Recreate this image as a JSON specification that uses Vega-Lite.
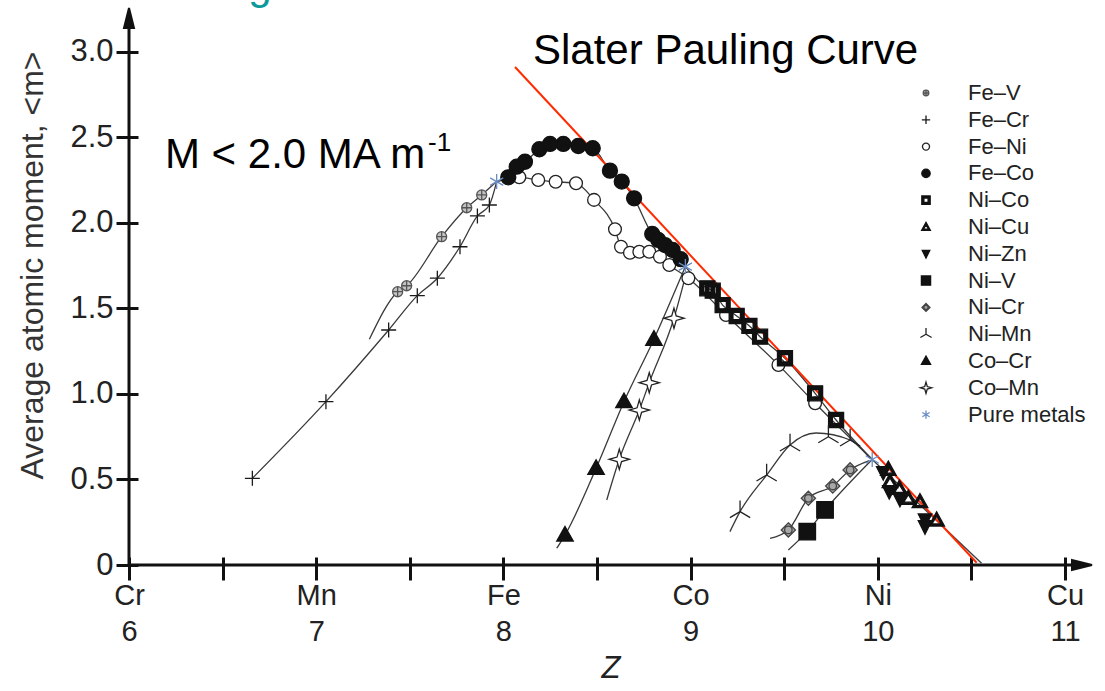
{
  "$schema": "https://vega.github.io/schema/vega-lite/v6.json",
  "width": 963,
  "height": 557,
  "autosize": "none",
  "padding": {"left": 129, "top": 8, "right": 13, "bottom": 126},
  "background": "white",
  "config": {"view": {"stroke": null}, "font": "Liberation Sans"},
  "encoding": {
    "x": {"field": "z", "type": "quantitative",
      "scale": {"domain": [6, 11.144], "nice": false, "zero": false},
      "axis": {"values": [6, 6.5, 7, 7.5, 8, 8.5, 9, 9.5, 10, 10.5, 11],
        "labelExpr": "datum.value==6?['Cr','6']:datum.value==7?['Mn','7']:datum.value==8?['Fe','8']:datum.value==9?['Co','9']:datum.value==10?['Ni','10']:datum.value==11?['Cu','11']:''",
        "offset": -8, "tickSize": 23, "tickWidth": 3, "tickColor": "#111", "domain": false, "grid": false,
        "labelFont": "Liberation Sans", "labelFontSize": 29, "labelLineHeight": 36, "labelColor": "#222", "labelPadding": 1,
        "labelFlush": false, "labelOverlap": false,
        "title": "Z", "titleFont": "Liberation Sans", "titleFontStyle": "italic", "titleFontWeight": "normal", "titleFontSize": 31, "titleColor": "#222", "titlePadding": 7}},
    "y": {"field": "m", "type": "quantitative",
      "scale": {"domain": [0, 3.257], "nice": false, "zero": false},
      "axis": {"values": [0, 0.5, 1, 1.5, 2, 2.5, 3],
        "labelExpr": "datum.value==0?'0':format(datum.value,'.1f')",
        "offset": -9, "tickSize": 22, "tickWidth": 3, "tickColor": "#111", "domain": false, "grid": false,
        "labelFont": "Liberation Sans", "labelFontSize": 31, "labelColor": "#222", "labelPadding": 3,
        "title": "Average atomic moment, <m>", "titleFont": "Liberation Sans", "titleFontWeight": "normal", "titleFontSize": 32, "titleColor": "#333",
        "titleX": -106, "titleY": 257, "titleAlign": "center", "titleBaseline": "middle", "titleAngle": -90}}
  },
  "layer": [
    {
      "data": {"values": [
        {"z": 6, "m": 0, "z2": 11.1, "m2": 0},
        {"z": 6, "m": 0, "z2": 6, "m2": 3.22}
      ]},
      "mark": {"type": "rule", "stroke": "#111", "strokeWidth": 3},
      "encoding": {"x2": {"field": "z2"}, "y2": {"field": "m2"}}
    },
    {
      "data": {"values": [{"z": 6, "m": 3.257}]},
      "mark": {"type": "point", "shape": "M0,0L-1,4L1,4Z", "size": 100, "filled": true, "fill": "#111", "stroke": "#111", "opacity": 1}
    },
    {
      "data": {"values": [{"z": 11.144, "m": 0}]},
      "mark": {"type": "point", "shape": "M0,0L-4,-1L-4,1Z", "size": 100, "filled": true, "fill": "#111", "stroke": "#111", "opacity": 1}
    },
    {
      "data": {"values": [
        {"c": "FeCr", "z": 6.659, "m": 0.507}, {"c": "FeCr", "z": 7.052, "m": 0.955}, {"c": "FeCr", "z": 7.387, "m": 1.374}, {"c": "FeCr", "z": 7.540, "m": 1.575}, {"c": "FeCr", "z": 7.647, "m": 1.677}, {"c": "FeCr", "z": 7.768, "m": 1.861}, {"c": "FeCr", "z": 7.861, "m": 2.041}, {"c": "FeCr", "z": 7.925, "m": 2.105}, {"c": "FeCr", "z": 7.964, "m": 2.242},
        {"c": "FeV", "z": 7.284, "m": 1.320}, {"c": "FeV", "z": 7.435, "m": 1.598}, {"c": "FeV", "z": 7.483, "m": 1.633}, {"c": "FeV", "z": 7.670, "m": 1.920}, {"c": "FeV", "z": 7.804, "m": 2.089}, {"c": "FeV", "z": 7.884, "m": 2.164}, {"c": "FeV", "z": 7.964, "m": 2.242},
        {"c": "FeCo", "z": 7.964, "m": 2.242}, {"c": "FeCo", "z": 8.026, "m": 2.267}, {"c": "FeCo", "z": 8.071, "m": 2.329}, {"c": "FeCo", "z": 8.115, "m": 2.358}, {"c": "FeCo", "z": 8.192, "m": 2.431}, {"c": "FeCo", "z": 8.249, "m": 2.462}, {"c": "FeCo", "z": 8.320, "m": 2.462}, {"c": "FeCo", "z": 8.400, "m": 2.450}, {"c": "FeCo", "z": 8.477, "m": 2.437}, {"c": "FeCo", "z": 8.569, "m": 2.306}, {"c": "FeCo", "z": 8.632, "m": 2.242}, {"c": "FeCo", "z": 8.698, "m": 2.144}, {"c": "FeCo", "z": 8.795, "m": 1.936}, {"c": "FeCo", "z": 8.827, "m": 1.901}, {"c": "FeCo", "z": 8.863, "m": 1.871}, {"c": "FeCo", "z": 8.904, "m": 1.842}, {"c": "FeCo", "z": 8.947, "m": 1.788}, {"c": "FeCo", "z": 8.972, "m": 1.745},
        {"c": "FeNi", "z": 7.964, "m": 2.242}, {"c": "FeNi", "z": 8.085, "m": 2.267}, {"c": "FeNi", "z": 8.186, "m": 2.251}, {"c": "FeNi", "z": 8.279, "m": 2.241}, {"c": "FeNi", "z": 8.388, "m": 2.232}, {"c": "FeNi", "z": 8.484, "m": 2.135}, {"c": "FeNi", "z": 8.596, "m": 1.963}, {"c": "FeNi", "z": 8.628, "m": 1.861}, {"c": "FeNi", "z": 8.676, "m": 1.826}, {"c": "FeNi", "z": 8.726, "m": 1.832}, {"c": "FeNi", "z": 8.779, "m": 1.832}, {"c": "FeNi", "z": 8.836, "m": 1.803}, {"c": "FeNi", "z": 8.886, "m": 1.754}, {"c": "FeNi", "z": 8.988, "m": 1.677}, {"c": "FeNi", "z": 9.189, "m": 1.462}, {"c": "FeNi", "z": 9.469, "m": 1.170}, {"c": "FeNi", "z": 9.665, "m": 0.946}, {"c": "FeNi", "z": 9.970, "m": 0.617},
        {"c": "NiCo", "z": 8.972, "m": 1.745}, {"c": "NiCo", "z": 9.089, "m": 1.618}, {"c": "NiCo", "z": 9.118, "m": 1.604}, {"c": "NiCo", "z": 9.171, "m": 1.520}, {"c": "NiCo", "z": 9.246, "m": 1.456}, {"c": "NiCo", "z": 9.314, "m": 1.398}, {"c": "NiCo", "z": 9.371, "m": 1.335}, {"c": "NiCo", "z": 9.504, "m": 1.209}, {"c": "NiCo", "z": 9.665, "m": 1.004}, {"c": "NiCo", "z": 9.777, "m": 0.848}, {"c": "NiCo", "z": 9.970, "m": 0.617},
        {"c": "NiCu", "z": 9.970, "m": 0.617}, {"c": "NiCu", "z": 10.554, "m": 0.010},
        {"c": "NiMn", "z": 9.210, "m": 0.195}, {"c": "NiMn", "z": 9.264, "m": 0.312}, {"c": "NiMn", "z": 9.406, "m": 0.526}, {"c": "NiMn", "z": 9.531, "m": 0.702}, {"c": "NiMn", "z": 9.670, "m": 0.772}, {"c": "NiMn", "z": 9.852, "m": 0.731}, {"c": "NiMn", "z": 9.958, "m": 0.624},
        {"c": "NiCr", "z": 9.424, "m": 0.156}, {"c": "NiCr", "z": 9.522, "m": 0.205}, {"c": "NiCr", "z": 9.629, "m": 0.390}, {"c": "NiCr", "z": 9.759, "m": 0.462}, {"c": "NiCr", "z": 9.852, "m": 0.556}, {"c": "NiCr", "z": 9.955, "m": 0.610},
        {"c": "NiV", "z": 9.522, "m": 0.088}, {"c": "NiV", "z": 9.623, "m": 0.195}, {"c": "NiV", "z": 9.718, "m": 0.322}, {"c": "NiV", "z": 9.970, "m": 0.617},
        {"c": "CoCr", "z": 8.285, "m": 0.098}, {"c": "CoCr", "z": 8.329, "m": 0.175}, {"c": "CoCr", "z": 8.495, "m": 0.565}, {"c": "CoCr", "z": 8.644, "m": 0.955}, {"c": "CoCr", "z": 8.804, "m": 1.320}, {"c": "CoCr", "z": 8.972, "m": 1.745},
        {"c": "CoMn", "z": 8.552, "m": 0.380}, {"c": "CoMn", "z": 8.619, "m": 0.618}, {"c": "CoMn", "z": 8.726, "m": 0.906}, {"c": "CoMn", "z": 8.779, "m": 1.066}, {"c": "CoMn", "z": 8.911, "m": 1.443}, {"c": "CoMn", "z": 8.975, "m": 1.700}
      ]},
      "mark": {"type": "line", "interpolate": "monotone", "stroke": "#3a3a3a", "strokeWidth": 1.3},
      "encoding": {"detail": {"field": "c"}}
    },
    {
      "data": {"values": [{"z": 8.062, "m": 2.912}, {"z": 10.528, "m": 0.013}]},
      "mark": {"type": "line", "stroke": "#ff2a00", "strokeWidth": 2},
      "encoding": {}
    },
    {
      "data": {"values": [
        {"s": "Fe–V", "z": 7.435, "m": 1.598}, {"s": "Fe–V", "z": 7.483, "m": 1.633}, {"s": "Fe–V", "z": 7.670, "m": 1.920}, {"s": "Fe–V", "z": 7.804, "m": 2.089}, {"s": "Fe–V", "z": 7.884, "m": 2.164},
        {"s": "Fe–Cr", "z": 6.659, "m": 0.507}, {"s": "Fe–Cr", "z": 7.052, "m": 0.955}, {"s": "Fe–Cr", "z": 7.387, "m": 1.374}, {"s": "Fe–Cr", "z": 7.540, "m": 1.575}, {"s": "Fe–Cr", "z": 7.647, "m": 1.677}, {"s": "Fe–Cr", "z": 7.768, "m": 1.861}, {"s": "Fe–Cr", "z": 7.861, "m": 2.041}, {"s": "Fe–Cr", "z": 7.925, "m": 2.105},
        {"s": "Fe–Ni", "z": 8.085, "m": 2.267}, {"s": "Fe–Ni", "z": 8.186, "m": 2.251}, {"s": "Fe–Ni", "z": 8.279, "m": 2.241}, {"s": "Fe–Ni", "z": 8.388, "m": 2.232}, {"s": "Fe–Ni", "z": 8.484, "m": 2.135}, {"s": "Fe–Ni", "z": 8.596, "m": 1.963}, {"s": "Fe–Ni", "z": 8.628, "m": 1.861}, {"s": "Fe–Ni", "z": 8.676, "m": 1.826}, {"s": "Fe–Ni", "z": 8.726, "m": 1.832}, {"s": "Fe–Ni", "z": 8.779, "m": 1.832}, {"s": "Fe–Ni", "z": 8.836, "m": 1.803}, {"s": "Fe–Ni", "z": 8.886, "m": 1.754}, {"s": "Fe–Ni", "z": 8.988, "m": 1.677}, {"s": "Fe–Ni", "z": 9.189, "m": 1.462}, {"s": "Fe–Ni", "z": 9.469, "m": 1.170}, {"s": "Fe–Ni", "z": 9.665, "m": 0.946},
        {"s": "Fe–Co", "z": 8.026, "m": 2.267}, {"s": "Fe–Co", "z": 8.071, "m": 2.329}, {"s": "Fe–Co", "z": 8.115, "m": 2.358}, {"s": "Fe–Co", "z": 8.192, "m": 2.431}, {"s": "Fe–Co", "z": 8.249, "m": 2.462}, {"s": "Fe–Co", "z": 8.320, "m": 2.462}, {"s": "Fe–Co", "z": 8.400, "m": 2.450}, {"s": "Fe–Co", "z": 8.477, "m": 2.437}, {"s": "Fe–Co", "z": 8.569, "m": 2.306}, {"s": "Fe–Co", "z": 8.632, "m": 2.242}, {"s": "Fe–Co", "z": 8.698, "m": 2.144}, {"s": "Fe–Co", "z": 8.795, "m": 1.936}, {"s": "Fe–Co", "z": 8.827, "m": 1.901}, {"s": "Fe–Co", "z": 8.863, "m": 1.871}, {"s": "Fe–Co", "z": 8.904, "m": 1.842}, {"s": "Fe–Co", "z": 8.947, "m": 1.788},
        {"s": "Ni–Co", "z": 9.089, "m": 1.618}, {"s": "Ni–Co", "z": 9.118, "m": 1.604}, {"s": "Ni–Co", "z": 9.171, "m": 1.520}, {"s": "Ni–Co", "z": 9.246, "m": 1.456}, {"s": "Ni–Co", "z": 9.314, "m": 1.398}, {"s": "Ni–Co", "z": 9.371, "m": 1.335}, {"s": "Ni–Co", "z": 9.504, "m": 1.209}, {"s": "Ni–Co", "z": 9.665, "m": 1.004}, {"s": "Ni–Co", "z": 9.777, "m": 0.848},
        {"s": "Ni–Cu", "z": 10.056, "m": 0.560}, {"s": "Ni–Cu", "z": 10.065, "m": 0.487}, {"s": "Ni–Cu", "z": 10.115, "m": 0.448}, {"s": "Ni–Cu", "z": 10.163, "m": 0.390}, {"s": "Ni–Cu", "z": 10.225, "m": 0.370}, {"s": "Ni–Cu", "z": 10.314, "m": 0.263},
        {"s": "Ni–Zn", "z": 10.029, "m": 0.540}, {"s": "Ni–Zn", "z": 10.061, "m": 0.429}, {"s": "Ni–Zn", "z": 10.118, "m": 0.384}, {"s": "Ni–Zn", "z": 10.252, "m": 0.263}, {"s": "Ni–Zn", "z": 10.252, "m": 0.224},
        {"s": "Ni–V", "z": 9.623, "m": 0.195}, {"s": "Ni–V", "z": 9.718, "m": 0.322},
        {"s": "Ni–Cr", "z": 9.522, "m": 0.205}, {"s": "Ni–Cr", "z": 9.629, "m": 0.390}, {"s": "Ni–Cr", "z": 9.759, "m": 0.462}, {"s": "Ni–Cr", "z": 9.852, "m": 0.556},
        {"s": "Ni–Mn", "z": 9.264, "m": 0.312}, {"s": "Ni–Mn", "z": 9.406, "m": 0.526}, {"s": "Ni–Mn", "z": 9.531, "m": 0.702}, {"s": "Ni–Mn", "z": 9.736, "m": 0.750}, {"s": "Ni–Mn", "z": 9.852, "m": 0.731},
        {"s": "Co–Cr", "z": 8.329, "m": 0.175}, {"s": "Co–Cr", "z": 8.495, "m": 0.565}, {"s": "Co–Cr", "z": 8.644, "m": 0.955}, {"s": "Co–Cr", "z": 8.804, "m": 1.320},
        {"s": "Co–Mn", "z": 8.619, "m": 0.618}, {"s": "Co–Mn", "z": 8.726, "m": 0.906}, {"s": "Co–Mn", "z": 8.779, "m": 1.066}, {"s": "Co–Mn", "z": 8.911, "m": 1.443},
        {"s": "Pure metals", "z": 7.964, "m": 2.242}, {"s": "Pure metals", "z": 8.972, "m": 1.745}, {"s": "Pure metals", "z": 9.970, "m": 0.617}
      ]},
      "mark": {"type": "point", "size": 225, "strokeWidth": 1.3, "opacity": 1},
      "encoding": {
        "shape": {"field": "s", "type": "nominal",
          "scale": {"domain": ["Fe–V", "Fe–Cr", "Fe–Ni", "Fe–Co", "Ni–Co", "Ni–Cu", "Ni–Zn", "Ni–V", "Ni–Cr", "Ni–Mn", "Co–Cr", "Co–Mn", "Pure metals"],
            "range": [
              "M-0.67,0A0.67,0.67,0,1,1,0.67,0A0.67,0.67,0,1,1,-0.67,0ZM-0.67,0L0.67,0M0,-0.67L0,0.67",
              "M-1,0L1,0M0,-1L0,1",
              "M-0.85,0A0.85,0.85,0,1,1,0.85,0A0.85,0.85,0,1,1,-0.85,0Z",
              "M-1,0A1,1,0,1,1,1,0A1,1,0,1,1,-1,0Z",
              "M-1,-1L1,-1L1,1L-1,1ZM-0.5,-0.5L-0.5,0.5L0.5,0.5L0.5,-0.5Z",
              "M0,-1.1L1.05,0.8L-1.05,0.8ZM0,-0.5L-0.62,0.52L0.62,0.52Z",
              "M-0.9,-0.8L0.9,-0.8L0,1Z",
              "M-1.1,-1.1L1.1,-1.1L1.1,1.1L-1.1,1.1Z",
              "M0,-0.95L0.95,0L0,0.95L-0.95,0ZM-0.5,0A0.5,0.5,0,1,1,0.5,0A0.5,0.5,0,1,1,-0.5,0Z",
              "M0,0L0,-1.5M0,0L-1.35,0.8M0,0L1.35,0.8",
              "M0,-1.15L1.1,0.8L-1.1,0.8Z",
              "M0,-1.35L0.3,-0.3L1.35,0L0.3,0.3L0,1.35L-0.3,0.3L-1.35,0L-0.3,-0.3Z",
              "M0,-1L0,1M-0.87,-0.5L0.87,0.5M-0.87,0.5L0.87,-0.5"
            ]},
          "legend": {"orient": "none", "legendX": 786, "legendY": 74, "title": null, "padding": 0,
            "labelFont": "Liberation Sans", "labelFontSize": 22, "labelColor": "#222", "labelOffset": 31,
            "symbolSize": 70, "symbolStrokeWidth": 1.3, "rowPadding": 4.8}},
        "fill": {"field": "s", "type": "nominal",
          "scale": {"domain": ["Fe–V", "Fe–Cr", "Fe–Ni", "Fe–Co", "Ni–Co", "Ni–Cu", "Ni–Zn", "Ni–V", "Ni–Cr", "Ni–Mn", "Co–Cr", "Co–Mn", "Pure metals"],
            "range": ["#c4c4c4", "transparent", "#ffffff", "#111111", "#111111", "#111111", "#111111", "#111111", "#a8a8a8", "transparent", "#111111", "#ffffff", "transparent"]}},
        "stroke": {"field": "s", "type": "nominal",
          "scale": {"domain": ["Fe–V", "Fe–Cr", "Fe–Ni", "Fe–Co", "Ni–Co", "Ni–Cu", "Ni–Zn", "Ni–V", "Ni–Cr", "Ni–Mn", "Co–Cr", "Co–Mn", "Pure metals"],
            "range": ["#555555", "#1a1a1a", "#222222", "#111111", "#111111", "#111111", "#111111", "#111111", "#444444", "#222222", "#111111", "#222222", "#6a8cc4"]}}
      }
    },
    {
      "data": {"values": [{"z": 8.158, "m": 2.93, "t": "Slater Pauling Curve"}]},
      "mark": {"type": "text", "align": "left", "baseline": "alphabetic", "font": "Liberation Sans", "fontSize": 42, "fill": "#000"},
      "encoding": {"text": {"field": "t"}}
    },
    {
      "data": {"values": [{"z": 6.192, "m": 2.322, "t": "M < 2.0 MA m"}]},
      "mark": {"type": "text", "align": "left", "baseline": "alphabetic", "font": "Liberation Sans", "fontSize": 42, "fill": "#000"},
      "encoding": {"text": {"field": "t"}}
    },
    {
      "data": {"values": [{"z": 7.597, "m": 2.42, "t": "-1"}]},
      "mark": {"type": "text", "align": "left", "baseline": "alphabetic", "font": "Liberation Sans", "fontSize": 26, "fill": "#000"},
      "encoding": {"text": {"field": "t"}}
    },
    {
      "data": {"values": [{"z": 6.70, "m": 3.31, "t": "g"}]},
      "mark": {"type": "text", "align": "center", "baseline": "alphabetic", "font": "Liberation Sans", "fontSize": 42, "fill": "#0a9a9c"},
      "encoding": {"text": {"field": "t"}}
    }
  ]
}
